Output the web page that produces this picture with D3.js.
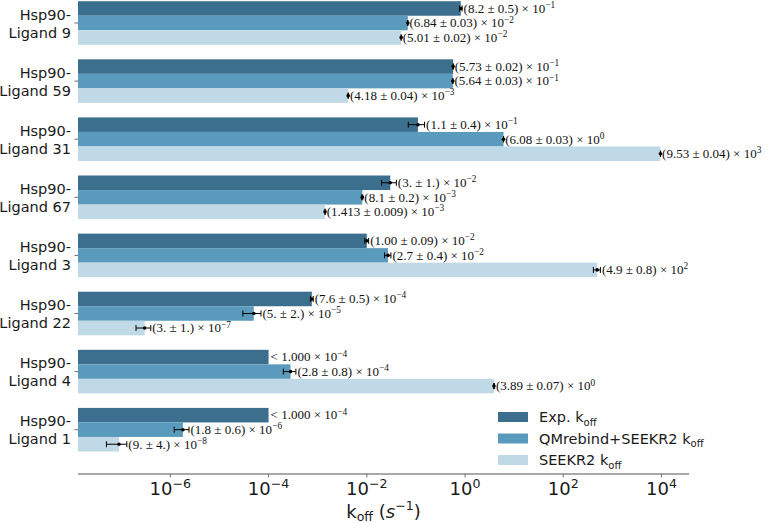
<!DOCTYPE html>
<html>
<head>
<meta charset="utf-8">
<script src="https://cdn.jsdelivr.net/npm/d3@7"></script>
<style>
html,body{margin:0;padding:0;background:#fff;}
svg{display:block;}
</style>
</head>
<body>
<svg id="chart" width="765" height="523"></svg>
<script>
// ---------- data ----------
const ligands = ["Ligand 9","Ligand 59","Ligand 31","Ligand 67","Ligand 3","Ligand 22","Ligand 4","Ligand 1"];
const seriesNames = ["Exp.", "QMrebind+SEEKR2", "SEEKR2"];

// Exp. koff (value, error, mantissa text, error text, exponent, upper-bound flag)
const expVal  = [8.2e-1, 5.73e-1, 1.1e-1, 3e-2, 1.00e-2, 7.6e-4, 1.000e-4, 1.000e-4];
const expErr  = [0.5e-1, 0.02e-1, 0.4e-1, 1e-2, 0.09e-2, 0.5e-4, 0, 0];
const expMan  = ["8.2","5.73","1.1","3.","1.00","7.6","1.000","1.000"];
const expEM   = ["0.5","0.02","0.4","1.","0.09","0.5","",""];
const expExp  = [-1,-1,-1,-2,-2,-4,-4,-4];
const expUpper= [false,false,false,false,false,false,true,true];

// QMrebind+SEEKR2 koff
const qmVal = [6.84e-2, 5.64e-1, 6.08e0, 8.1e-3, 2.7e-2, 5e-5, 2.8e-4, 1.8e-6];
const qmErr = [0.03e-2, 0.03e-1, 0.03e0, 0.2e-3, 0.4e-2, 2e-5, 0.8e-4, 0.6e-6];
const qmMan = ["6.84","5.64","6.08","8.1","2.7","5.","2.8","1.8"];
const qmEM  = ["0.03","0.03","0.03","0.2","0.4","2.","0.8","0.6"];
const qmExp = [-2,-1,0,-3,-2,-5,-4,-6];

// SEEKR2 koff
const skVal = [5.01e-2, 4.18e-3, 9.53e3, 1.413e-3, 4.9e2, 3e-7, 3.89e0, 9e-8];
const skErr = [0.02e-2, 0.04e-3, 0.04e3, 0.009e-3, 0.8e2, 1e-7, 0.07e0, 4e-8];
const skMan = ["5.01","4.18","9.53","1.413","4.9","3.","3.89","9."];
const skEM  = ["0.02","0.04","0.04","0.009","0.8","1.","0.07","4."];
const skExp = [-2,-3,3,-3,2,-7,0,-8];

const xTicks = [1e-6, 1e-4, 1e-2, 1e0, 1e2, 1e4];
const colors = ["#3c6f8e", "#5a9bbd", "#c0d9e7"];

// ---------- layout ----------
const svg = d3.select("#chart");
const x = d3.scaleLog().domain([Math.pow(10,-7.88), Math.pow(10,4.56)]).range([78, 689]);
const y = d3.scaleLinear().domain([-0.7625, 7.7625]).range([474, -21.3]);
const barH = y(0) - y(0.25);

const series = [
  {val: expVal, err: expErr, man: expMan, em: expEM, ex: expExp, upper: expUpper, off: 0.25, color: colors[0]},
  {val: qmVal, err: qmErr, man: qmMan, em: qmEM, ex: qmExp, upper: qmVal.map(()=>false), off: 0, color: colors[1]},
  {val: skVal, err: skErr, man: skMan, em: skEM, ex: skExp, upper: skVal.map(()=>false), off: -0.25, color: colors[2]}
];

const gBars = svg.append("g");
const gErr = svg.append("g");
const gTxt = svg.append("g");
const annFont = "'Liberation Serif','DejaVu Serif',serif";
const annSize = 13;

series.forEach(s => {
  ligands.forEach((lig, i) => {
    const pos = 7 - i + s.off;
    const cy = y(pos);
    const v = s.val[i];
    gBars.append("rect")
      .attr("x", x.range()[0])
      .attr("y", cy - barH/2)
      .attr("width", x(v) - x.range()[0])
      .attr("height", barH)
      .attr("fill", s.color);
    let tx;
    if (s.upper[i]) {
      tx = x(v) + 2;
    } else {
      const lo = x(v - s.err[i]), hi = x(v + s.err[i]);
      gErr.append("line").attr("x1", lo).attr("x2", hi).attr("y1", cy).attr("y2", cy)
        .attr("stroke", "#000").attr("stroke-width", 1);
      [lo, hi].forEach(cx => gErr.append("line").attr("x1", cx).attr("x2", cx)
        .attr("y1", cy - 3).attr("y2", cy + 3).attr("stroke", "#000").attr("stroke-width", 1));
      gErr.append("circle").attr("cx", x(v)).attr("cy", cy).attr("r", 1.8).attr("fill", "#000");
      tx = hi + 1.5;
    }
    const t = gTxt.append("text")
      .attr("x", tx).attr("y", cy + 4.3)
      .attr("font-family", annFont).attr("font-size", annSize).attr("fill", "#111");
    const mainTxt = s.upper[i]
      ? "< " + s.man[i] + " \u00d7 10"
      : "(" + s.man[i] + " \u00b1 " + s.em[i] + ") \u00d7 10";
    t.append("tspan").text(mainTxt);
    t.append("tspan").attr("dy", -4.8).attr("font-size", annSize*0.72)
      .text(s.ex[i] < 0 ? "\u2212" + Math.abs(s.ex[i]) : String(s.ex[i]));
  });
});

// ---------- y axis labels ----------
const yLab = svg.append("g");
ligands.forEach((lig, i) => {
  const cy = y(7 - i);
  yLab.append("line").attr("x1", 74.5).attr("x2", 78).attr("y1", cy).attr("y2", cy)
    .attr("stroke", "#444").attr("stroke-width", 0.8);
  const t = yLab.append("text").attr("text-anchor", "end")
    .attr("font-family", "'DejaVu Sans',sans-serif").attr("font-size", 14.5).attr("fill", "#1a1a1a");
  t.append("tspan").attr("x", 71).attr("y", cy - 3.5).text("Hsp90-");
  t.append("tspan").attr("x", 71).attr("y", cy + 14.5).text(lig);
});

// ---------- x axis ----------
const xAx = svg.append("g");
xAx.append("line").attr("x1", 78).attr("x2", 689).attr("y1", 474).attr("y2", 474)
  .attr("stroke", "#555").attr("stroke-width", 1);
xTicks.forEach(v => {
  const px = x(v);
  xAx.append("line").attr("x1", px).attr("x2", px).attr("y1", 474).attr("y2", 477.5)
    .attr("stroke", "#555").attr("stroke-width", 0.8);
  const e = Math.round(Math.log10(v));
  const t = xAx.append("text").attr("x", px).attr("y", 495).attr("text-anchor", "middle")
    .attr("font-family", "'DejaVu Sans',sans-serif").attr("font-size", 18).attr("fill", "#1a1a1a");
  t.append("tspan").text("10");
  t.append("tspan").attr("dy", -7.5).attr("font-size", 12.6).text(e < 0 ? "\u2212" + Math.abs(e) : String(e));
});
const xl = svg.append("text").attr("x", 383.5).attr("y", 517.5).attr("text-anchor", "middle")
  .attr("font-family", "'DejaVu Sans',sans-serif").attr("font-size", 18).attr("fill", "#1a1a1a");
xl.append("tspan").text("k");
xl.append("tspan").attr("dy", 3.3).attr("font-size", 12.6).text("off");
xl.append("tspan").attr("dy", -3.3).text(" (");
xl.append("tspan").attr("font-style", "italic").text("s");
xl.append("tspan").attr("dy", -7.5).attr("font-size", 12.6).text("\u22121");
xl.append("tspan").attr("dy", 7.5).text(")");

// ---------- legend ----------
const leg = svg.append("g");
seriesNames.forEach((n, i) => {
  const cy = 417 + i * 21.5;
  leg.append("rect").attr("x", 498).attr("y", cy - 5).attr("width", 30).attr("height", 10).attr("fill", colors[i]);
  const t = leg.append("text").attr("x", 539).attr("y", cy + 5)
    .attr("font-family", "'DejaVu Sans',sans-serif").attr("font-size", 14.5).attr("fill", "#1a1a1a");
  t.append("tspan").text(n + " k");
  t.append("tspan").attr("dy", 3.5).attr("font-size", 10).text("off");
});
</script>
</body>
</html>
